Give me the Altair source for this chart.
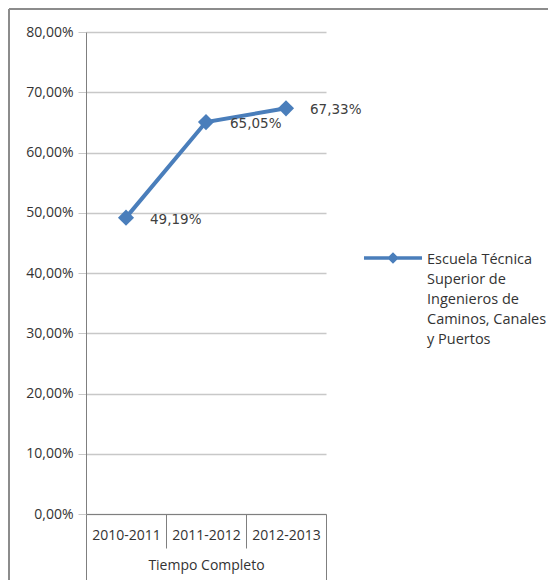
import altair as alt
import pandas as pd

categories = ["2010-2011", "2011-2012", "2012-2013"]
values = [49.19, 65.05, 67.33]
labels = ["49,19%", "65,05%", "67,33%"]
series_lines = ["Escuela Técnica", "Superior de", "Ingenieros de", "Caminos, Canales", "y Puertos"]
series = " ".join(series_lines)
y_ticks = [0, 10, 20, 30, 40, 50, 60, 70, 80]

df = pd.DataFrame({"cat": categories, "val": values, "lab": labels, "serie": series})

BLUE = "#4a7ebb"
FONT = "Open Sans"
TXT = "#333333"

x = alt.X("cat:N", sort=categories, title="Tiempo Completo",
          scale=alt.Scale(paddingInner=0, paddingOuter=0),
          axis=alt.Axis(labelAngle=0, tickBand="extent",
                        tickSize={"condition": {"test": "datum.extra || datum.value == '2012-2013'", "value": 70},
                                  "value": 34},
                        labelPadding={"condition": {"test": "datum.value == '2012-2013'", "value": -56},
                                      "value": -20},
                        tickColor="#7f7f7f", domainColor="#7f7f7f",
                        labelFontSize=14, labelColor=TXT, labelFont=FONT, titleFont=FONT,
                        titleFontSize=14, titleFontWeight="normal", titleColor=TXT,
                        titleY=51, titleBaseline="middle", grid=False))
y = alt.Y("val:Q", title=None,
          scale=alt.Scale(domain=[0, 80], nice=False),
          axis=alt.Axis(values=y_ticks, labelExpr="replace(format(datum.value, '.2f'), '.', ',') + '%'",
                        grid=True, gridColor="#c8c8c8", gridWidth=1.5,
                        tickColor="#c8c8c8", tickSize=8, domainColor="#7f7f7f",
                        labelFontSize=14, labelColor=TXT, labelFont=FONT, labelPadding=5))

color = alt.Color("serie:N", scale=alt.Scale(range=[BLUE]),
                  legend=alt.Legend(title=series_lines, titleOrient="right", titleAnchor="start",
                                    titleBaseline="top", titleLineHeight=20, titleFont=FONT,
                                    titleFontSize=14.5, titleFontWeight="normal", titleColor=TXT,
                                    titlePadding=-2, titleLimit=300,
                                    orient="none", legendX=302, legendY=221,
                                    symbolType="M-9.67,0H9.67M-1.1,0L0,-1.1L1.1,0L0,1.1Z",
                                    symbolSize=36, symbolStrokeWidth=3.5,
                                    symbolStrokeColor=BLUE, symbolFillColor=BLUE,
                                    labelExpr="''", labelOffset=0, labelFontSize=1))

base = alt.Chart(df)
frame_v = base.mark_rule(color="#8c8c8c", strokeWidth=2).encode(
    x=alt.value(-77), y=alt.value(-23), y2=alt.value(548))
frame_h = base.mark_rule(color="#8c8c8c", strokeWidth=2).encode(
    x=alt.value(-77), x2=alt.value(462), y=alt.value(-23))
line = base.mark_line(strokeWidth=4).encode(x=x, y=y, color=color)
pts = base.mark_point(shape="diamond", filled=True, size=260, opacity=1).encode(
    x=x, y=y, color=alt.Color("serie:N", scale=alt.Scale(range=[BLUE]), legend=None))
txt = base.mark_text(align="left", baseline="middle", dx=24, dy=2, fontSize=13.5,
                     font="DejaVu Sans", color="#404040").encode(x=x, y=y, text="lab:N")

chart = alt.layer(frame_v, frame_h, line, pts, txt).properties(
    width=240, height=482,
    autosize=alt.AutoSizeParams(type="none"),
    padding={"left": 78, "top": 24, "right": 222, "bottom": 66},
    background="white",
).configure_view(stroke=None)

chart.save("out.html", embed_options={"renderer": "svg", "actions": False})
